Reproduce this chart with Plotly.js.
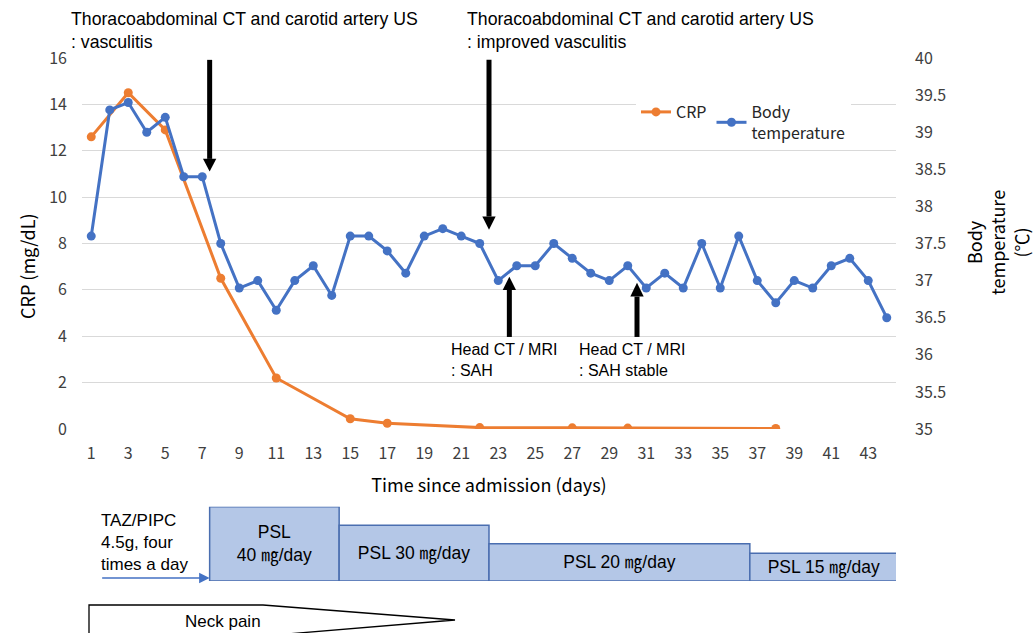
<!DOCTYPE html>
<html><head><meta charset="utf-8">
<script src="https://cdn.plot.ly/plotly-3.0.1.min.js"></script>
<style>html,body{margin:0;padding:0;background:#fff}#chart{width:1035px;height:633px}</style>
</head><body><div id="chart"></div>
<script>
// ---------------- data ----------------
const days = [1,2,3,4,5,6,7,8,9,10,11,12,13,14,15,16,17,18,19,20,21,22,23,24,25,26,27,28,29,30,31,32,33,34,35,36,37,38,39,40,41,42,43,44];
const bodyTemp = [37.6,39.3,39.4,39.0,39.2,38.4,38.4,37.5,36.9,37.0,36.6,37.0,37.2,36.8,37.6,37.6,37.4,37.1,37.6,37.7,37.6,37.5,37.0,37.2,37.2,37.5,37.3,37.1,37.0,37.2,36.9,37.1,36.9,37.5,36.9,37.6,37.0,36.7,37.0,36.9,37.2,37.3,37.0,36.5];
const crpDays = [1,3,5,8,11,15,17,22,27,30,38];
const crpValues = [12.6,14.5,12.9,6.5,2.2,0.44,0.25,0.06,0.05,0.04,0.02];
const xTickDays = [1,3,5,7,9,11,13,15,17,19,21,23,25,27,29,31,33,35,37,39,41,43];
const xTickLabels = ['1','3','5','7','9','11','13','15','17','19','21','23','25','27','29','31','33','35','37','39','41','43'];
const crpTicks = [0,2,4,6,8,10,12,14,16];
const tempTicks = [35,35.5,36,36.5,37,37.5,38,38.5,39,39.5,40];
const tempTickLabels = ['35','35.5','36','36.5','37','37.5','38','38.5','39','39.5','40'];
const pslStart = [7.4, 14.4, 22.5, 36.6];
const pslEnd = [14.4, 22.5, 36.6, 44.6];
const pslDose = [40, 30, 20, 15];
const pslLabels = ['PSL<br>40 ㎎/day', 'PSL 30 ㎎/day', 'PSL 20 ㎎/day', 'PSL 15 ㎎/day'];
const eventDays = [7.4, 22.5, 23.6, 30.5];
const eventTexts = [
  'Thoracoabdominal CT and carotid artery US<br>: vasculitis',
  'Thoracoabdominal CT and carotid artery US<br>: improved vasculitis',
  'Head CT / MRI<br>: SAH',
  'Head CT / MRI<br>: SAH stable'
];
// -------------------------------------

const W = 1035, H = 633, L = 82, R = 896, T = 58;
const px2x = p => (p - L) / (R - L);
const px2y = p => (H - p) / (H - T);

const textFont = 'Liberation Sans, Arial, Noto Sans CJK JP, sans-serif';
const jpFont = 'Noto Sans CJK JP, sans-serif';

const traces = [
  {
    x: crpDays, y: crpValues, name: 'CRP', type: 'scatter', mode: 'lines+markers',
    line: {color: '#ed7d31', width: 3}, marker: {color: '#ed7d31', size: 9},
    xaxis: 'x', yaxis: 'y', hoverinfo: 'skip'
  },
  {
    x: days, y: bodyTemp, name: 'Body<br>temperature', type: 'scatter', mode: 'lines+markers',
    line: {color: '#4472c4', width: 3}, marker: {color: '#4472c4', size: 9},
    xaxis: 'x', yaxis: 'y2', hoverinfo: 'skip'
  },
  {
    x: pslStart.map((s, i) => (s + pslEnd[i]) / 2),
    width: pslStart.map((s, i) => pslEnd[i] - s),
    y: pslDose, base: 0, type: 'bar', xaxis: 'x', yaxis: 'y3',
    marker: {color: '#b4c7e7', line: {color: '#4a6eb0', width: 1.5}},
    text: pslLabels, textposition: 'inside', insidetextanchor: 'middle', textangle: 0,
    constraintext: 'none',
    textfont: {family: textFont, size: 17.5, color: '#000'},
    showlegend: false, hoverinfo: 'skip'
  }
];

// arrows (black) as shapes in data coords of CRP axis
const shapes = [];
function arrow(d, tail, base, tip) {
  shapes.push({type: 'line', xref: 'x', yref: 'y', x0: d, x1: d, y0: tail, y1: base,
    line: {color: '#000', width: 5}, layer: 'above'});
  shapes.push({type: 'path', xref: 'x', yref: 'y',
    path: `M ${d - 0.36} ${base} L ${d + 0.36} ${base} L ${d} ${tip} Z`,
    fillcolor: '#000', line: {color: '#000', width: 0}, layer: 'above'});
}
arrow(eventDays[0], 15.92, 11.65, 11.10);
arrow(eventDays[1], 15.92, 9.16, 8.59);
arrow(eventDays[2], 3.97, 6.0, 6.57);
arrow(eventDays[3], 3.97, 5.71, 6.31);

// neck pain wedge
shapes.push({type: 'path', xref: 'paper', yref: 'paper',
  path: `M ${px2x(89)} ${px2y(605)} L ${px2x(263)} ${px2y(605)} L ${px2x(455)} ${px2y(620)} L ${px2x(263)} ${px2y(636)} L ${px2x(89)} ${px2y(636)} Z`,
  fillcolor: '#fff', line: {color: '#000', width: 1.3}, layer: 'above'});

const annotations = [
  {text: eventTexts[0], xref: 'paper', yref: 'paper', x: px2x(69), y: px2y(30.5), xanchor: 'left', yanchor: 'middle', align: 'left', showarrow: false, font: {family: textFont, size: 17.7, color: '#000'}},
  {text: eventTexts[1], xref: 'paper', yref: 'paper', x: px2x(465), y: px2y(30.5), xanchor: 'left', yanchor: 'middle', align: 'left', showarrow: false, font: {family: textFont, size: 17.7, color: '#000'}},
  {text: eventTexts[2], xref: 'paper', yref: 'paper', x: px2x(449), y: px2y(359.5), xanchor: 'left', yanchor: 'middle', align: 'left', showarrow: false, font: {family: textFont, size: 16, color: '#000'}},
  {text: eventTexts[3], xref: 'paper', yref: 'paper', x: px2x(577), y: px2y(359.5), xanchor: 'left', yanchor: 'middle', align: 'left', showarrow: false, font: {family: textFont, size: 16, color: '#000'}},
  {text: 'TAZ/PIPC<br>4.5g, four<br>times a day', xref: 'paper', yref: 'paper', x: px2x(99), y: px2y(542), xanchor: 'left', yanchor: 'middle', align: 'left', showarrow: false, font: {family: textFont, size: 17, color: '#000'}},
  {text: '', xref: 'x', yref: 'paper', x: pslStart[0], y: px2y(578), ax: -109, ay: 0, showarrow: true, arrowhead: 2, arrowsize: 1.4, arrowwidth: 1.5, arrowcolor: '#4472c4'},
  {text: 'Neck pain', xref: 'paper', yref: 'paper', x: px2x(223), y: px2y(621.5), xanchor: 'center', yanchor: 'middle', showarrow: false, font: {family: textFont, size: 17, color: '#000'}},
  {text: 'CRP (mg/dL)', xref: 'paper', yref: 'paper', x: px2x(27), y: px2y(266), xanchor: 'center', yanchor: 'middle', textangle: -90, showarrow: false, font: {family: jpFont, size: 18, color: '#000'}},
  {text: 'Body<br>temperature<br>(℃)', xref: 'paper', yref: 'paper', x: px2x(997), y: px2y(243), xanchor: 'center', yanchor: 'middle', textangle: -90, showarrow: false, font: {family: jpFont, size: 18, color: '#000'}}
];

const layout = {
  width: W, height: H,
  margin: {l: L, r: W - R, t: T, b: 0, pad: 0},
  paper_bgcolor: '#fff', plot_bgcolor: '#fff',
  font: {family: jpFont, size: 16, color: '#404040'},
  showlegend: true,
  legend: {orientation: 'h', x: px2x(636), y: px2y(95), xanchor: 'left', yanchor: 'top',
    bgcolor: '#fff', font: {family: jpFont, size: 16, color: '#262626'}, traceorder: 'normal'},
  xaxis: {domain: [0, 1], anchor: 'y', range: [0.5, 44.5], tickmode: 'array', tickvals: xTickDays, ticktext: xTickLabels,
    showgrid: false, zeroline: false, showline: false, ticks: '', tickfont: {size: 16, color: '#404040'},
    ticklabelstandoff: 13,
    title: {text: 'Time since admission (days)', font: {size: 18, color: '#000'}, standoff: 16}},
  yaxis: {domain: [px2y(429), 1], range: [0, 16], tickmode: 'array', tickvals: crpTicks,
    showgrid: true, gridcolor: '#d9d9d9', gridwidth: 1, zeroline: false, showline: false, ticks: '',
    tickfont: {size: 16, color: '#404040'}, ticklabelstandoff: 14},
  yaxis2: {overlaying: 'y', side: 'right', anchor: 'x', range: [35, 40], tickmode: 'array', tickvals: tempTicks, ticktext: tempTickLabels,
    showgrid: false, zeroline: false, showline: false, ticks: '', tickfont: {size: 16, color: '#404040'}, ticklabelstandoff: 18},
  yaxis3: {domain: [px2y(581), px2y(506.7)], anchor: 'x', range: [0, 40], visible: false, showgrid: false, zeroline: false},
  shapes: shapes,
  annotations: annotations,
  hovermode: false
};

Plotly.newPlot('chart', traces, layout, {staticPlot: true, displayModeBar: false});
</script>
</body></html>
